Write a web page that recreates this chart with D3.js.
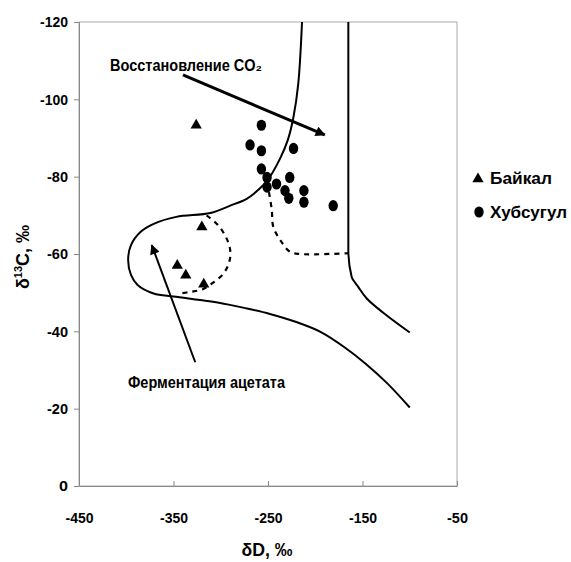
<!DOCTYPE html>
<html>
<head>
<meta charset="utf-8">
<script src="https://cdn.jsdelivr.net/npm/d3@7"></script>
<style>
  body { margin: 0; background: #fff; }
  svg text { font-family: "Liberation Sans", Arial, sans-serif; font-weight: bold; fill: #000; }
</style>
</head>
<body>
<div id="chart"></div>
<script>
// Байкал (triangles): [δD, δ13C]
const baikal = [[-326, -93.3], [-320, -67], [-346, -57], [-337, -54.5], [-318, -52.2]];
// Хубсугул (circles)
const khubsugul = [
  [-257, -93.3], [-269, -88.2], [-257, -86.7], [-223, -87.3], [-257, -82],
  [-251, -79.8], [-251, -77.3], [-241, -78.1], [-227, -79.8], [-232, -76.4],
  [-228, -74.4], [-212, -76.4], [-212, -73.4], [-181, -72.5]
];
// field boundaries
const outerCurve = [
  [-214, -120], [-218, -104], [-223, -95.5], [-229, -89.5], [-237, -84.8],
  [-251, -78.9], [-264, -75.8], [-273, -74.2], [-290, -72.5], [-311, -70.6],
  [-347, -69.6], [-371, -67.8], [-385, -65.7], [-395, -62.3], [-398, -58.4],
  [-395, -54.6], [-388, -52], [-371, -49.8], [-350, -49], [-322, -48.1],
  [-302, -47.4], [-274, -46], [-248, -44.5], [-220, -42.4], [-194, -39.8],
  [-168, -35.7], [-147, -31.7], [-124, -26.6], [-100, -20.3]
];
const rightCurve = [
  [-165, -120], [-165, -61], [-161.5, -54.1], [-154.5, -51.5], [-145.5, -48.5],
  [-128, -44.8], [-100, -39.7]
];
const dashedRight = [
  [-249, -76], [-246, -71.4], [-244.5, -67.1], [-237, -63.6], [-227, -60.6],
  [-216, -60], [-165, -60.2]
];
const dashedLeft = [
  [-315, -70], [-303, -67.5], [-294, -64.1], [-290, -61], [-291, -57.9],
  [-297, -55], [-308, -52.6], [-319, -50.9], [-332, -50.2], [-346, -49.7]
];
const arrowCO2 = [[-340, -106.3], [-190, -90.8]];
const arrowAcetate = [[-327, -32], [-373, -62.3]];

const xTicks = [-450, -350, -250, -150, -50];
const yTicks = [0, -20, -40, -60, -80, -100, -120];

const width = 571, height = 562;
const margin = { top: 22, right: 114, bottom: 76, left: 79 };

const svg = d3.select('#chart').append('svg')
  .attr('width', width)
  .attr('height', height);

const x = d3.scaleLinear().domain([-450, -50]).range([margin.left, width - margin.right]);
const y = d3.scaleLinear().domain([0, -120]).range([height - margin.bottom, margin.top]);

// squeeze bold text to look like the narrow face of the original
const fit = (sel, len) => sel.attr('textLength', len).attr('lengthAdjust', 'spacingAndGlyphs');
const labelLen = d => ({ 1: 9, 3: 21, 4: 28 })[String(d).length];

// frame
svg.append('rect')
  .attr('x', x(-450)).attr('y', y(-120))
  .attr('width', x(-50) - x(-450)).attr('height', y(0) - y(-120))
  .attr('fill', 'none').attr('stroke', '#aaa').attr('stroke-width', 1);

const fmt = d => String(d);
const xAxis = d3.axisBottom(x).tickValues(xTicks).tickFormat(fmt).tickSizeInner(-5).tickSizeOuter(0).tickPadding(26);
const yAxis = d3.axisLeft(y).tickValues(yTicks).tickFormat(fmt).tickSizeInner(5).tickSizeOuter(0).tickPadding(6);

const gx = svg.append('g').attr('transform', `translate(0,${y(0)})`).call(xAxis);
const gy = svg.append('g').attr('transform', `translate(${x(-450)},0)`).call(yAxis);
[gx, gy].forEach(g => {
  g.select('.domain').attr('stroke', '#888');
  g.selectAll('.tick line').attr('stroke', '#888');
  g.selectAll('.tick text').style('font-size', '15px').attr('fill', '#000')
    .each(function(d) { fit(d3.select(this), labelLen(d)); });
});

const line = d3.line().x(d => x(d[0])).y(d => y(d[1])).curve(d3.curveCatmullRom);

svg.append('path').datum(outerCurve).attr('d', line)
  .attr('fill', 'none').attr('stroke', '#000').attr('stroke-width', 2);
svg.append('path').datum(rightCurve).attr('d', d3.line().x(d => x(d[0])).y(d => y(d[1])).curve(d3.curveMonotoneY))
  .attr('fill', 'none').attr('stroke', '#000').attr('stroke-width', 2);
svg.append('path').datum(dashedRight).attr('d', line)
  .attr('fill', 'none').attr('stroke', '#000').attr('stroke-width', 2.2).attr('stroke-dasharray', '5,5');
svg.append('path').datum(dashedLeft).attr('d', line)
  .attr('fill', 'none').attr('stroke', '#000').attr('stroke-width', 2.2).attr('stroke-dasharray', '5,5');

// arrows
const defs = svg.append('defs');
defs.append('marker').attr('id', 'head')
  .attr('viewBox', '0 0 10 10').attr('refX', 9).attr('refY', 5)
  .attr('markerWidth', 14).attr('markerHeight', 10)
  .attr('markerUnits', 'userSpaceOnUse').attr('orient', 'auto')
  .append('path').attr('d', 'M0,0L10,5L0,10z').attr('fill', '#000');

svg.append('line')
  .attr('x1', x(arrowCO2[0][0])).attr('y1', y(arrowCO2[0][1]))
  .attr('x2', x(arrowCO2[1][0])).attr('y2', y(arrowCO2[1][1]))
  .attr('stroke', '#000').attr('stroke-width', 3).attr('marker-end', 'url(#head)');
svg.append('line')
  .attr('x1', x(arrowAcetate[0][0])).attr('y1', y(arrowAcetate[0][1]))
  .attr('x2', x(arrowAcetate[1][0])).attr('y2', y(arrowAcetate[1][1]))
  .attr('stroke', '#000').attr('stroke-width', 2).attr('marker-end', 'url(#head)');

// points
svg.selectAll('path.baikal').data(baikal).enter().append('path')
  .attr('class', 'baikal')
  .attr('d', d3.symbol().type(d3.symbolTriangle).size(55))
  .attr('transform', d => `translate(${x(d[0])},${y(d[1])})`)
  .attr('fill', '#000');
svg.selectAll('ellipse.khub').data(khubsugul).enter().append('ellipse')
  .attr('class', 'khub')
  .attr('cx', d => x(d[0])).attr('cy', d => y(d[1]))
  .attr('rx', 4.7).attr('ry', 5.6)
  .attr('fill', '#000');

// annotations
svg.append('text').attr('x', 110).attr('y', 71).style('font-size', '16px')
  .call(fit, 152).text('Восстановление CO₂');
svg.append('text').attr('x', 128).attr('y', 388).style('font-size', '16px')
  .call(fit, 157).text('Ферментация ацетата');

// legend
const legend = svg.append('g');
legend.append('path')
  .attr('d', d3.symbol().type(d3.symbolTriangle).size(55))
  .attr('transform', 'translate(478,179)').attr('fill', '#000');
legend.append('text').attr('x', 490).attr('y', 184).style('font-size', '17px').call(fit, 62).text('Байкал');
legend.append('ellipse').attr('cx', 479).attr('cy', 212).attr('rx', 4.7).attr('ry', 5.6).attr('fill', '#000');
legend.append('text').attr('x', 490).attr('y', 218).style('font-size', '17px').call(fit, 77).text('Хубсугул');

// axis titles
svg.append('text').attr('x', 267).attr('y', 556).attr('text-anchor', 'middle')
  .style('font-size', '18px').call(fit, 51).text('δD, ‰');
const yt = svg.append('text').attr('transform', 'translate(29,257) rotate(-90)')
  .attr('text-anchor', 'middle').style('font-size', '18px');
yt.append('tspan').text('δ');
yt.append('tspan').attr('dy', -7).style('font-size', '11px').text('13');
yt.append('tspan').attr('dy', 7).text('C, ‰');
</script>
</body>
</html>
